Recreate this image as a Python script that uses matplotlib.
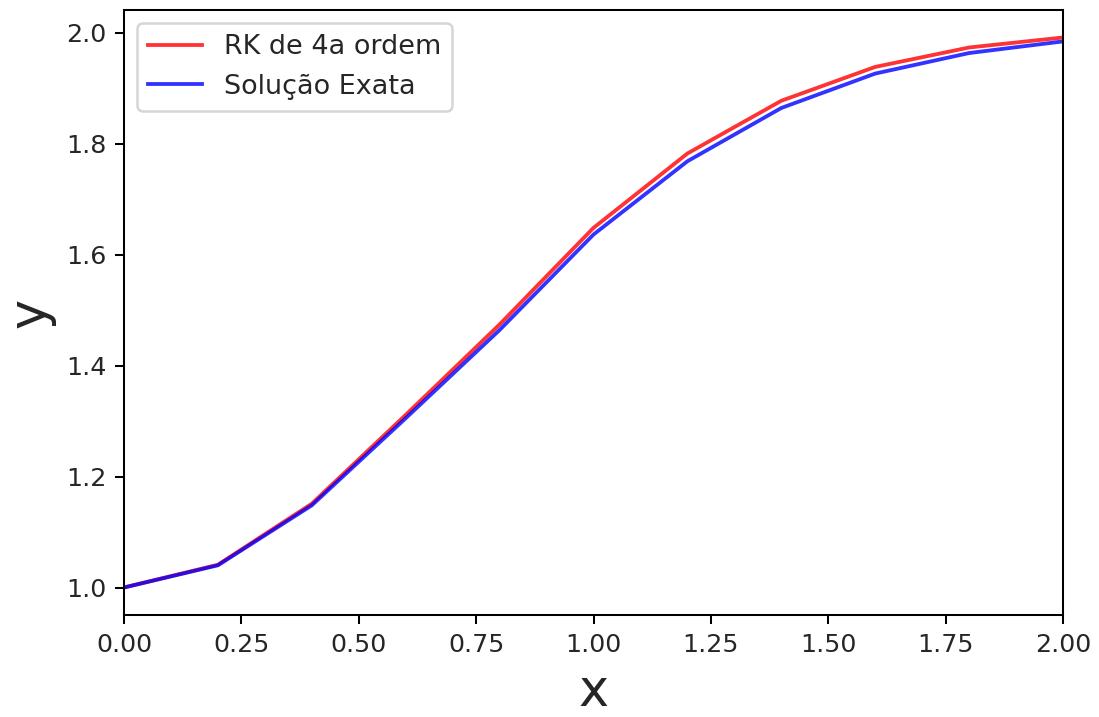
import matplotlib
matplotlib.use("Agg")
import matplotlib.pyplot as plt
import numpy as np

# grid points and the two solutions
x_vals = [0.0, 0.2, 0.4, 0.6, 0.8, 1.0, 1.2, 1.4, 1.6, 1.8, 2.0]
y_rk4 = [1.000, 1.041, 1.151, 1.311, 1.474, 1.648, 1.782, 1.877, 1.938, 1.973, 1.991]
y_exact = [1.000, 1.040, 1.148, 1.305, 1.464, 1.636, 1.768, 1.864, 1.926, 1.963, 1.984]

dpi = 72 * 1099 / 432
fig = plt.figure(figsize=(1099 / dpi, 717 / dpi), dpi=dpi)
ax = fig.add_axes([124 / 1099, 1 - 615 / 717, (1063 - 124) / 1099, (615 - 10) / 717])

ax.plot(x_vals, y_rk4, color='r', alpha=0.8, label='RK de 4a ordem')
ax.plot(x_vals, y_exact, color='b', alpha=0.8, label='Solução Exata')

ax.set_xlim(0, 2)
ax.tick_params(labelcolor='#262626')
ax.set_xlabel('x', fontsize=20, color='#262626')
ax.set_ylabel('y', fontsize=20, color='#262626')
ax.legend(loc='upper left', fontsize=10.6, labelcolor='#262626')

fig.savefig('out.png', dpi=dpi)
